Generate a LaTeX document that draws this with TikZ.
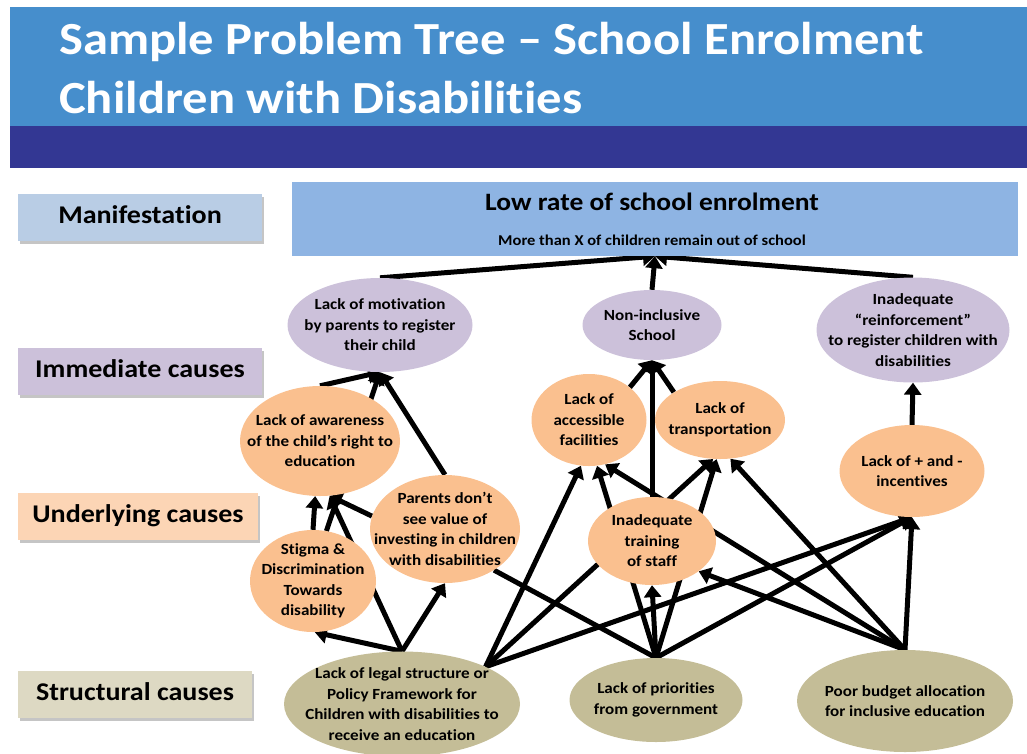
\documentclass[tikz,border=0pt]{standalone}
\usepackage{fontspec}
\setmainfont{Carlito}[FakeStretch=1.1,RawFeature={-liga;-clig;-calt;-dlig}]
\usetikzlibrary{shapes.geometric,arrows.meta,shadows,backgrounds}

\definecolor{titleblue}{HTML}{468ECC}
\definecolor{bandblue}{HTML}{333793}
\definecolor{problemblue}{HTML}{8EB4E3}
\definecolor{manifestfill}{HTML}{B9CDE5}
\definecolor{immediatefill}{HTML}{CCC1DA}
\definecolor{underlyingfill}{HTML}{FAC08F}
\definecolor{underlyinglabel}{HTML}{FCD5B5}
\definecolor{structuralfill}{HTML}{C4BD97}
\definecolor{structurallabel}{HTML}{DDD9C3}

\begin{document}
\begin{tikzpicture}[x=1pt,y=-1pt,
    tier/.style={minimum height=47, text height=18, text depth=5, inner xsep=0pt,
        font=\fontsize{25.5}{28}\selectfont\bfseries,
        drop shadow={shadow xshift=2pt,shadow yshift=-3pt,fill=black!45,opacity=.5}},
    cause/.style={ellipse, inner xsep=-40pt, inner ysep=-15pt, align=center,
        font=\fontsize{15.5}{20.5}\selectfont\bfseries},
    immediate/.style={cause, fill=immediatefill},
    underlying/.style={cause, fill=underlyingfill},
    structural/.style={cause, fill=structuralfill},
    arrow link/.style={line width=5pt, -{Triangle[length=12pt,width=17pt]}},
    plain link/.style={line width=5pt}]
    \useasboundingbox (0,0) rectangle (1027,753);

    % heading band
    \fill[titleblue] (10,7) rectangle (1027,126);
    \fill[bandblue] (10,126) rectangle (1027,168);
    \node[anchor=base west, inner sep=0pt, text=white, font=\fontsize{46}{50}\selectfont\bfseries] (title) at (59,54) {Sample Problem Tree – School Enrolment};
    \node[anchor=base west, inner sep=0pt, text=white, font=\fontsize{46}{50}\selectfont\bfseries] (subtitle) at (59,113) {Children with Disabilities};

    % level labels on the left
    \node[tier, fill=manifestfill, minimum width=244] (manifestation) at (140,217) {Manifestation};
    \node[tier, fill=immediatefill, minimum width=244] (immediate causes) at (140,371) {Immediate causes};
    \node[tier, fill=underlyinglabel, minimum width=240] (underlying causes) at (138,516) {Underlying causes};
    \node[tier, fill=structurallabel, minimum width=234] (structural causes) at (135,694) {Structural causes};

    % the problem itself
    \node[fill=problemblue, minimum width=726, minimum height=74, inner sep=0pt] (problem) at (655,219) {};
    \node[font=\fontsize{25}{28}\selectfont\bfseries] (problem text) at (652,202) {Low rate of school enrolment};
    \node[font=\fontsize{15}{16}\selectfont\bfseries] (problem note) at (652,240) {More than X of children remain out of school};

    % immediate causes
    \node[immediate, minimum width=185, minimum height=94] (motivation) at (380,325) {Lack of motivation\\by parents to register\\their child};
    \node[immediate, minimum width=139, minimum height=70] (school) at (652,325) {Non-inclusive\\School};
    \node[immediate, minimum width=193, minimum height=105] (reinforcement) at (913,330) {Inadequate\\“reinforcement”\\to register children with\\disabilities};

    % underlying causes
    \node[underlying, minimum width=160, minimum height=110] (awareness) at (320,441) {Lack of awareness\\of the child’s right to\\education};
    \node[underlying, minimum width=115, minimum height=92] (facilities) at (589,420) {Lack of\\accessible\\facilities};
    \node[underlying, minimum width=130, minimum height=78] (transport) at (720,420) {Lack of\\transportation};
    \node[underlying, minimum width=145, minimum height=92] (incentives) at (912,471) {Lack of + and -\\incentives};
    \node[underlying, minimum width=150, minimum height=108] (parents) at (445,529) {Parents don’t\\see value of\\investing in children\\with disabilities};
    \node[underlying, minimum width=126, minimum height=102] (stigma) at (313,581) {Stigma \&\\Discrimination\\Towards\\disability};
    \node[underlying, minimum width=128, minimum height=88] (training) at (652,541) {Inadequate\\training\\of staff};

    % structural causes
    \node[structural, minimum width=236, minimum height=105] (legal) at (402,704) {Lack of legal structure or\\Policy Framework for\\Children with disabilities to\\receive an education};
    \node[structural, minimum width=173, minimum height=84] (government) at (656,700) {Lack of priorities\\from government};
    \node[structural, minimum width=216, minimum height=102] (budget) at (905,701) {Poor budget allocation\\for inclusive education};

    \begin{scope}[on background layer]
        % from the structural causes
        \draw[arrow link] (legal.north) -- (stigma.-88);
        \draw[arrow link] (legal.north) -- (parents.south);
        \draw[arrow link] (legal.north) -- (awareness.-80);
        \draw[arrow link] (legal.north east) -- (facilities.-100);
        \draw[arrow link] (legal.north east) -- (transport.-100);
        \draw[arrow link] (legal.north east) -- (incentives.south);
        \draw[plain link] (government.north) -- (parents.-40);
        \draw[arrow link] (government.north) -- (facilities.-80);
        \draw[arrow link] (government.north) -- (training.south);
        \draw[arrow link] (government.north) -- (transport.-95);
        \draw[arrow link] (government.north) -- (incentives.south);
        \draw[arrow link] (budget.north) -- (training.-33);
        \draw[arrow link] (budget.north) -- (facilities.-70);
        \draw[arrow link] (budget.north) -- (transport.-75);
        \draw[arrow link] (budget.north) -- (incentives.south);
        % from the underlying causes
        \draw[arrow link] (stigma.north) -- (awareness.-95);
        \draw[arrow link] (parents.170) -- (awareness.-80);
        \draw[arrow link] (stigma.75) -- (motivation.south);
        \draw[arrow link] (awareness.north) -- (motivation.south);
        \draw[arrow link] (parents.north) -- (motivation.south);
        \draw[arrow link] (facilities.north east) -- (school.south);
        \draw[arrow link] (training.north) -- (school.south);
        \draw[arrow link] (transport.north west) -- (school.south);
        \draw[arrow link] (incentives.north) -- (reinforcement.south);
        % up to the problem
        \draw[arrow link] (motivation.north) -- (problem.south);
        \draw[arrow link] (school.north) -- (problem.south);
        \draw[arrow link] (reinforcement.north) -- (problem.south);
    \end{scope}
\end{tikzpicture}
\end{document}
